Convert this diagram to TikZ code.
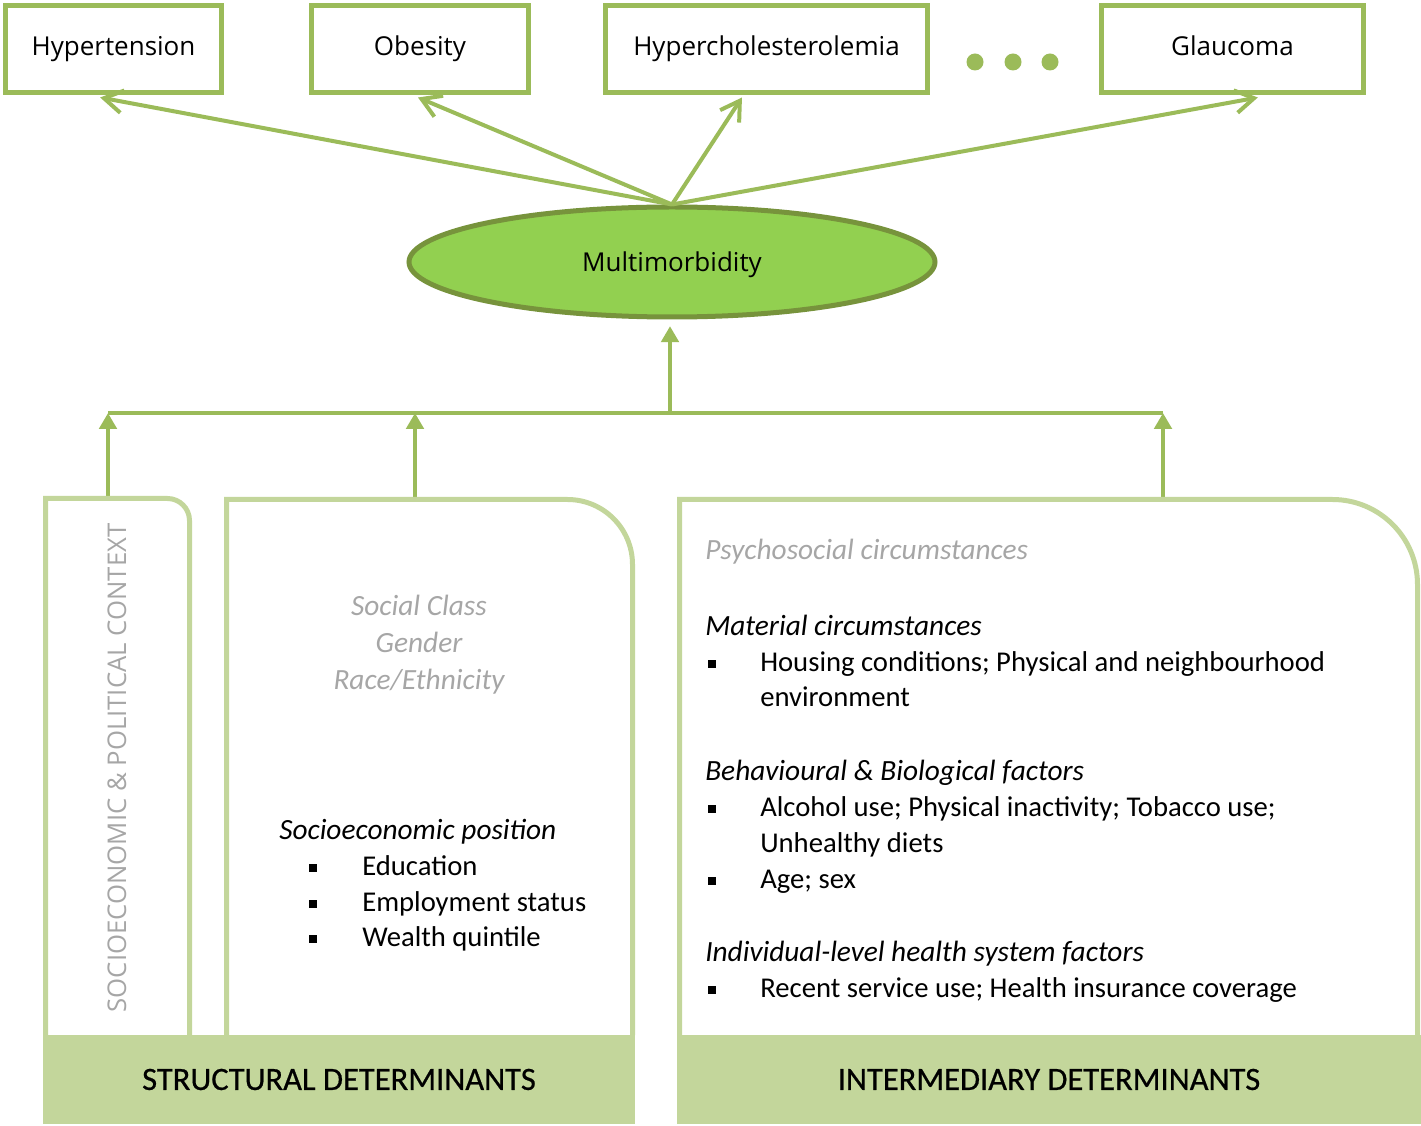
\documentclass[tikz,border=0pt]{standalone}
\usepackage{fontspec}
\setmainfont{Carlito}
\newfontfamily\osans{Open Sans}
\newfontfamily\barfont[FakeBold=0.6]{Carlito}
\usetikzlibrary{arrows.meta,shapes.geometric}
\definecolor{boxgreen}{HTML}{9BBB59}
\definecolor{ellfill}{HTML}{92D050}
\definecolor{elldraw}{HTML}{77933C}
\definecolor{panelgreen}{HTML}{C3D69B}
\definecolor{txtgray}{HTML}{A6A6A6}
\begin{document}
\begin{tikzpicture}[x=0.75pt,y=-0.75pt,
  disease/.style={draw=boxgreen,line width=3.75pt,fill=white,minimum height=65pt,inner sep=0pt,
    text height=15pt,text depth=4.5pt,font=\osans\fontsize{19.5}{22}\selectfont},
  toparrow/.style={draw=boxgreen,line width=3pt,-{Straight Barb[length=14pt,width=17pt]}},
  uparrow/.style={draw=boxgreen,line width=3pt,-{Triangle[length=12pt,width=13pt]}},
  conn/.style={draw=boxgreen,line width=3pt},
  panelline/.style={draw=panelgreen,line width=3.75pt},
  bar/.style={fill=panelgreen,inner sep=0pt,minimum height=66.75pt,font=\barfont\fontsize{24.4}{28}\selectfont},
  body/.style={inner sep=0pt,anchor=base west,font=\fontsize{21.5}{26}\selectfont},
  head/.style={body,font=\fontsize{22}{26}\selectfont\itshape},
  ghead/.style={body,text=txtgray,font=\fontsize{22}{26}\selectfont\itshape},
  gcenter/.style={inner sep=0pt,anchor=base,text=txtgray,font=\fontsize{22}{26}\selectfont\itshape},
  bul/.style={fill=black}
]
\useasboundingbox (0,0) rectangle (1421,1126);

% disease boxes
\node[disease,minimum width=162pt] (hyp) at (113.5,49) {Hypertension};
\node[disease,minimum width=162.75pt] (obe) at (420,49) {Obesity};
\node[disease,minimum width=241.5pt] (chol) at (766.5,49) {Hypercholesterolemia};
\node[disease,minimum width=196.5pt] (gla) at (1232.5,49) {Glaucoma};
\fill[boxgreen] (975,62) circle[radius=8.5] (1013,62) circle[radius=8.5] (1050,62) circle[radius=8.5];

% multimorbidity
\node[ellipse,draw=elldraw,fill=ellfill,line width=3.75pt,minimum width=394.5pt,minimum height=82.5pt,inner sep=0pt,
  text height=15pt,text depth=1pt,font=\osans\fontsize{19.5}{22}\selectfont] (mm) at (672,262) {Multimorbidity};

\draw[toparrow] (mm.north) -- ([xshift=-10pt,yshift=-2pt]hyp.south);
\draw[toparrow] (mm.north) -- ([xshift=-1.5pt,yshift=-2pt]obe.south);
\draw[toparrow] (mm.north) -- ([xshift=-18.4pt,yshift=-2pt]chol.south);
\draw[toparrow] (mm.north) -- ([xshift=19pt,yshift=-2pt]gla.south);

% connectors from determinants
\coordinate (hub) at (670,413);
\coordinate (lineL) at (108,413);
\coordinate (lineM) at (415,413);
\coordinate (lineR) at (1163,413);
\coordinate (ctxTop) at (108,497);
\coordinate (strTop) at (415,499);
\coordinate (intTop) at (1163,499);
\draw[conn] (lineL) -- (lineR);
\draw[uparrow] (hub) -- ([yshift=-5pt]hub |- mm.south);
\draw[uparrow] (ctxTop) -- (lineL);
\draw[uparrow] (strTop) -- (lineM);
\draw[uparrow] (intTop) -- (lineR);

% panels
\draw[panelline] (45.5,1035) -- (45.5,498.5) -- (167.5,498.5) .. controls (179.6,498.5) and (189.5,508.4) .. (189.5,520.5) -- (189.5,1035);
\draw[panelline] (226.5,1035) -- (226.5,499.5) -- (567.5,499.5) .. controls (603.4,499.5) and (632.5,528.6) .. (632.5,564.5) -- (632.5,1035);
\draw[panelline] (679.5,1035) -- (679.5,499.5) -- (1332.5,499.5) .. controls (1379.4,499.5) and (1417.5,537.6) .. (1417.5,584.5) -- (1417.5,1035);

% bars
\node[bar,minimum width=444pt] (strbar) at (339,1079.5) {STRUCTURAL DETERMINANTS};
\node[bar,minimum width=558pt] (intbar) at (1049,1079.5) {INTERMEDIARY DETERMINANTS};

% context
\node[rotate=90,inner sep=0pt,text=txtgray,font=\osans\fontsize{19.3}{22}\selectfont] (ctx) at (117,768) {SOCIOECONOMIC \& POLITICAL CONTEXT};

% structural panel
\node[gcenter] (sc) at (419,615) {Social Class};
\node[gcenter] (gen) at (419,652) {Gender};
\node[gcenter] (race) at (419,689) {Race/Ethnicity};
\node[head] (sep) at (279,839) {Socioeconomic position};
\fill[bul] (309,864) rectangle (317,872);
\node[body] (edu) at (362,875) {Education};
\fill[bul] (309,900) rectangle (317,908);
\node[body] (emp) at (362,911) {Employment status};
\fill[bul] (309,935) rectangle (317,943);
\node[body] (wea) at (362,946) {Wealth quintile};

% intermediary panel
\node[ghead] (psy) at (705,560) {Psychosocial circumstances};
\node[head] (mat) at (705,635) {Material circumstances};
\fill[bul] (708,660) rectangle (716,668);
\node[body] (hou) at (760,671) {Housing conditions; Physical and neighbourhood};
\node[body] (env) at (760,706) {environment};
\node[head] (beh) at (705,780) {Behavioural \& Biological factors};
\fill[bul] (708,805) rectangle (716,813);
\node[body] (alc) at (760,816) {Alcohol use; Physical inactivity; Tobacco use;};
\node[body] (unh) at (760,852) {Unhealthy diets};
\fill[bul] (708,877) rectangle (716,885);
\node[body] (age) at (760,888) {Age; sex};
\node[head] (ind) at (705,961) {Individual-level health system factors};
\fill[bul] (708,986) rectangle (716,994);
\node[body] (rec) at (760,997) {Recent service use; Health insurance coverage};
\end{tikzpicture}
\end{document}
